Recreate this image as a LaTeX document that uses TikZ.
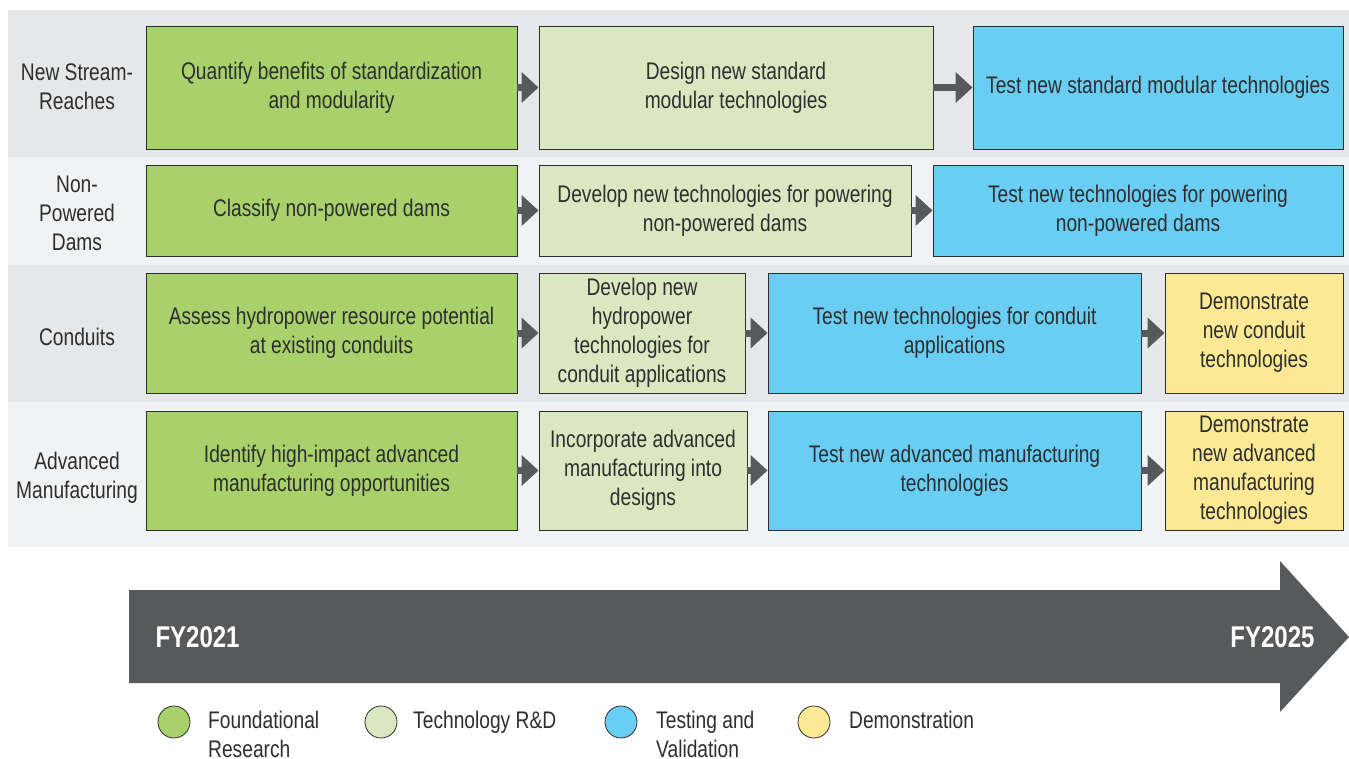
\documentclass[tikz,border=0pt]{standalone}
\usepackage{fontspec}
\setmainfont[FakeStretch=0.8]{Liberation Sans}
\usetikzlibrary{arrows.meta}

\definecolor{cFound}{HTML}{A8D16C}
\definecolor{cTech}{HTML}{DAE8C2}
\definecolor{cTest}{HTML}{69CDF4}
\definecolor{cDemo}{HTML}{FDE994}
\definecolor{cBandA}{HTML}{E6E7E8}
\definecolor{cBandB}{HTML}{F1F2F3}
\definecolor{cArrow}{HTML}{58595B}
\definecolor{cInk}{HTML}{2E2E2E}

\tikzset{
  task/.style={draw=cInk, line width=0.9pt, align=center, text=cInk, inner sep=2pt,
    font=\fontsize{24}{29}\selectfont},
  foundbox/.style={task, fill=cFound},
  techbox/.style={task, fill=cTech},
  testbox/.style={task, fill=cTest},
  demobox/.style={task, fill=cDemo},
  rowlabel/.style={align=center, text=cInk, font=\fontsize{24}{29}\selectfont},
  flowarrow/.style={draw=cArrow, line width=7pt, -{Triangle[length=17pt,width=30pt]}},
  keydot/.style={circle, draw=cInk, line width=0.8pt, minimum size=32pt, inner sep=0pt},
  keytext/.style={align=left, text=cInk, anchor=north west, inner sep=0pt,
    font=\fontsize{24}{29}\selectfont},
  yearlabel/.style={text=white, font=\fontsize{30}{36}\selectfont\bfseries}
}

\begin{document}
\begin{tikzpicture}[x=1pt, y=-1pt]

  \useasboundingbox (0,0) rectangle (1349,758);

  % row bands
  \fill[cBandA] (8,10) rectangle (1349,157);
  \fill[cBandB] (8,157) rectangle (1349,265);
  \fill[cBandA] (8,265) rectangle (1349,402);
  \fill[cBandB] (8,402) rectangle (1349,547);

  % row labels
  \node[rowlabel] (lbl1) at (77,87) {New Stream-\\Reaches};
  \node[rowlabel] (lbl2) at (77,213) {Non-\\Powered\\Dams};
  \node[rowlabel] (lbl3) at (77,337) {Conduits};
  \node[rowlabel] (lbl4) at (77,478) {Advanced\\Manufacturing};

  % new stream-reaches
  \node[foundbox, minimum width=371, minimum height=123] (std1) at (331.5,87.5)
    {Quantify benefits of standardization\\and modularity};
  \node[techbox, minimum width=394, minimum height=123] (std2) at (736,87.5)
    {Design new standard\\modular technologies};
  \node[testbox, minimum width=370, minimum height=123] (std3) at (1158,87.5)
    {Test new standard modular technologies};

  % non-powered dams
  \node[foundbox, minimum width=371, minimum height=91] (npd1) at (331.5,210.5)
    {Classify non-powered dams};
  \node[techbox, minimum width=372, minimum height=91] (npd2) at (725,210.5)
    {Develop new technologies for powering\\non-powered dams};
  \node[testbox, minimum width=410, minimum height=91] (npd3) at (1138,210.5)
    {Test new technologies for powering\\non-powered dams};

  % conduits
  \node[foundbox, minimum width=371, minimum height=120] (cnd1) at (331.5,333)
    {Assess hydropower resource potential\\at existing conduits};
  \node[techbox, minimum width=206, minimum height=120] (cnd2) at (642,333)
    {Develop new\\hydropower\\technologies for\\conduit applications};
  \node[testbox, minimum width=373, minimum height=120] (cnd3) at (954.5,333)
    {Test new technologies for conduit\\applications};
  \node[demobox, minimum width=178, minimum height=120] (cnd4) at (1254,333)
    {Demonstrate\\new conduit\\technologies};

  % advanced manufacturing
  \node[foundbox, minimum width=371, minimum height=119] (adv1) at (331.5,470.5)
    {Identify high-impact advanced\\manufacturing opportunities};
  \node[techbox, minimum width=208, minimum height=119] (adv2) at (643,470.5)
    {Incorporate advanced\\manufacturing into\\designs};
  \node[testbox, minimum width=373, minimum height=119] (adv3) at (954.5,470.5)
    {Test new advanced manufacturing\\technologies};
  \node[demobox, minimum width=178, minimum height=119] (adv4) at (1254,470.5)
    {Demonstrate\\new advanced\\manufacturing\\technologies};

  \draw[flowarrow] (std1) -- (std2);
  \draw[flowarrow] (std2) -- (std3);
  \draw[flowarrow] (npd1) -- (npd2);
  \draw[flowarrow] (npd2) -- (npd3);
  \draw[flowarrow] (cnd1) -- (cnd2);
  \draw[flowarrow] (cnd2) -- (cnd3);
  \draw[flowarrow] (cnd3) -- (cnd4);
  \draw[flowarrow] (adv1) -- (adv2);
  \draw[flowarrow] (adv2) -- (adv3);
  \draw[flowarrow] (adv3) -- (adv4);

  % timeline
  \fill[cArrow] (129,590) -- (1280,590) -- (1280,561) -- (1349,637)
    -- (1280,712) -- (1280,683) -- (129,683) -- cycle;
  \node[yearlabel, anchor=west] (fyA) at (152,637) {FY2021};
  \node[yearlabel, anchor=east] (fyB) at (1318,637) {FY2025};

  % legend
  \node[keydot, fill=cFound] (keyA) at (174,722) {};
  \node[keydot, fill=cTech] (keyB) at (381,722) {};
  \node[keydot, fill=cTest] (keyC) at (621,722) {};
  \node[keydot, fill=cDemo] (keyD) at (814,722) {};
  \node[keytext] (txtA) at (208,711) {Foundational\\Research};
  \node[keytext] (txtB) at (413,711) {Technology R\&D};
  \node[keytext] (txtC) at (656,711) {Testing and\\Validation};
  \node[keytext] (txtD) at (849,711) {Demonstration};

\end{tikzpicture}
\end{document}
